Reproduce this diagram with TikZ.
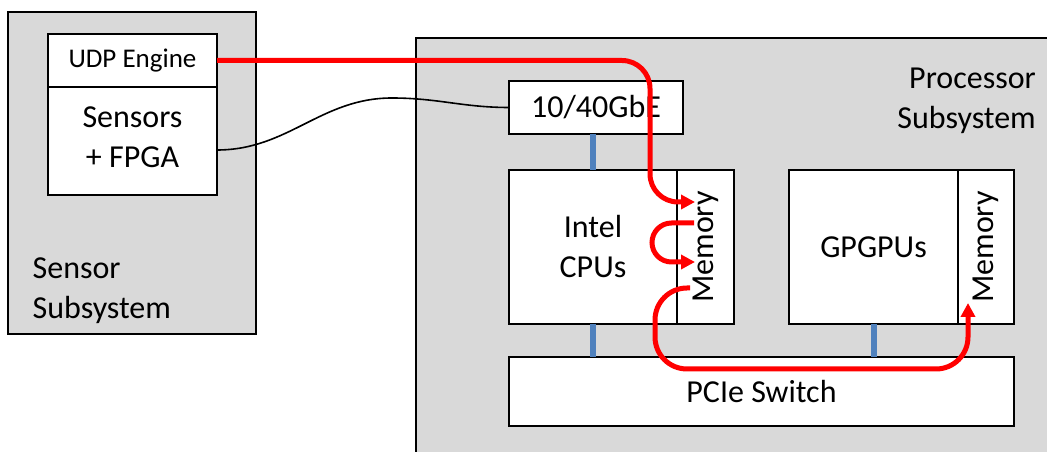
\documentclass[tikz,border=0pt]{standalone}
\usepackage{fontspec}
\setmainfont{Carlito}
\usepackage{tikz}
\usetikzlibrary{arrows.meta, positioning}
\definecolor{subgray}{HTML}{D9D9D9}
\definecolor{busblue}{HTML}{4F81BD}
\newcommand{\bigtext}{\fontsize{32}{40}\selectfont}
\newcommand{\smalltext}{\fontsize{27}{33}\selectfont}

\begin{document}
\begin{tikzpicture}[x=1pt, y=1pt, font=\bigtext]
\tikzstyle{subsys} = [rectangle, draw=black, line width=1.6pt, fill=subgray, outer sep=0pt]
\tikzstyle{block} = [rectangle, draw=black, line width=1.6pt, fill=white, align=center, outer sep=0pt, inner sep=0pt]
\tikzstyle{caption} = [inner sep=0pt]
\tikzstyle{bus} = [line width=6pt, draw=busblue]
\tikzstyle{link} = [line width=1.6pt, draw=black]
\tikzstyle{flow} = [line width=5pt, draw=red, ->, >={Triangle[length=14pt, width=14pt]}]

\useasboundingbox (0,0) rectangle (1047,452);

% Sensor Subsystem
\node (sensub) [subsys, minimum width=248pt, minimum height=322pt] at (132,279) {};
\node (senlabel) [caption, anchor=west, align=left] at (32.5,161.5) {Sensor\\Subsystem};
\node (udp) [block, minimum width=169pt, minimum height=53pt, font=\smalltext] at (132.5,391.5) {UDP Engine};
\node (sensors) [block, minimum width=169pt, minimum height=108pt, text depth=8pt, below=0pt of udp] {Sensors\\+ FPGA};

% Processor Subsystem
\node (procsub) [subsys, minimum width=660pt, minimum height=440pt, anchor=north west] at (416,414) {};
\node (proclabel) [caption, anchor=east, align=right] at (1036,351) {Processor\\Subsystem};
\node (gbe) [block, minimum width=174pt, minimum height=53pt] at (596,344.5) {10/40GbE};
\node (cpu) [block, minimum width=168pt, minimum height=154pt] at (593,205) {Intel\\CPUs};
\node (cpumem) [block, minimum width=57pt, minimum height=154pt, right=0pt of cpu] {\rotatebox{90}{Memory}};
\node (gpu) [block, minimum width=169pt, minimum height=154pt] at (873.5,205) {GPGPUs};
\node (gpumem) [block, minimum width=56pt, minimum height=154pt, right=0pt of gpu] {\rotatebox{90}{Memory}};
\node (pcie) [block, minimum width=505pt, minimum height=69pt] at (761.5,60.5) {PCIe Switch};

% Buses
\draw [bus] (cpu.north |- gbe.south) -- (cpu.north);
\draw [bus] (cpu.south) -- (cpu.south |- pcie.north);
\draw [bus] (gpu.south) -- (gpu.south |- pcie.north);

% Network cable
\coordinate (kink) at (392,354);
\draw [link] ([yshift=-9pt]sensors.east) to[out=0,in=180] (kink) to[out=0,in=180] (gbe.west);

% Data path
\coordinate (c1) at ([xshift=-27pt,yshift=45pt]cpumem.west);
\coordinate (m1) at ([xshift=18pt,yshift=45pt]cpumem.west);
\coordinate (m2a) at ([xshift=17pt,yshift=24pt]cpumem.west);
\coordinate (m2b) at ([xshift=-25pt,yshift=24pt]cpumem.west);
\coordinate (m2c) at ([xshift=-25pt,yshift=-15pt]cpumem.west);
\coordinate (m2d) at ([xshift=18pt,yshift=-15pt]cpumem.west);
\coordinate (m3) at ([xshift=13pt,yshift=-41pt]cpumem.west);
\coordinate (c3) at ([xshift=-22pt,yshift=-45pt]cpumem.south west);
\coordinate (g1) at ([xshift=10pt,yshift=21pt]gpumem.south west);

\draw [flow, rounded corners=28pt] (udp.east) -| (c1) -- (m1);
\draw [flow, rounded corners=19.5pt] (m2a) -- (m2b) -- (m2c) -- (m2d);
\draw [flow, rounded corners=32pt] (m3) -| (c3) -| (g1);

\end{tikzpicture}
\end{document}
